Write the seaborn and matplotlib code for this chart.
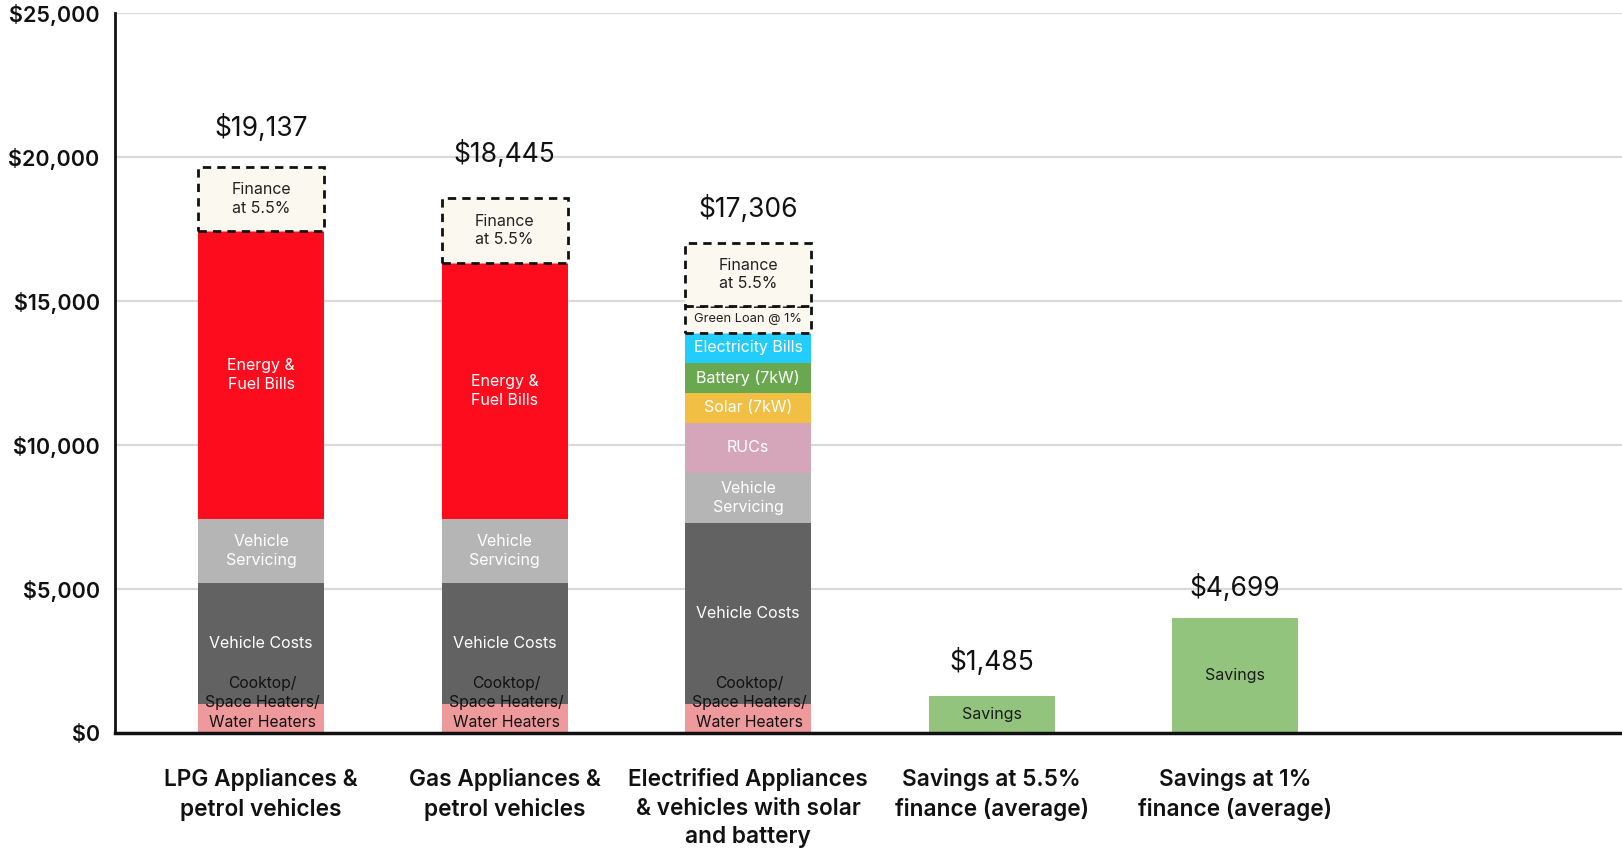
import matplotlib
matplotlib.use("Agg")
import matplotlib.pyplot as plt
import seaborn as sns
import pandas as pd

# ---------------- data ----------------
categories = [
    "LPG Appliances &\npetrol vehicles",
    "Gas Appliances &\npetrol vehicles",
    "Electrified Appliances\n& vehicles with solar\nand battery",
    "Savings at 5.5%\nfinance (average)",
    "Savings at 1%\nfinance (average)",
]
total_labels = ["$19,137", "$18,445", "$17,306", "$1,485", "$4,699"]

lpg_segments = ["Appliances", "Vehicle Costs", "Vehicle Servicing", "Energy & Fuel Bills", "Finance"]
lpg_values = [1000, 4200, 2230, 10000, 2220]

gas_segments = ["Appliances", "Vehicle Costs", "Vehicle Servicing", "Energy & Fuel Bills", "Finance"]
gas_values = [1000, 4200, 2230, 8890, 2256]

elec_segments = ["Appliances", "Vehicle Costs", "Vehicle Servicing", "RUCs", "Solar",
                 "Battery", "Electricity Bills", "Green Loan", "Finance"]
elec_values = [1000, 6290, 1740, 1740, 1040, 1040, 1040, 940, 2190]

sav55_segments = ["Savings"]
sav55_values = [1285]
sav1_segments = ["Savings"]
sav1_values = [3993]

seg_text = {
    "Appliances": "Cooktop/\nSpace Heaters/\nWater Heaters",
    "Vehicle Costs": "Vehicle Costs",
    "Vehicle Servicing": "Vehicle\nServicing",
    "Energy & Fuel Bills": "Energy &\nFuel Bills",
    "Finance": "Finance\nat 5.5%",
    "RUCs": "RUCs",
    "Solar": "Solar (7kW)",
    "Battery": "Battery (7kW)",
    "Electricity Bills": "Electricity Bills",
    "Green Loan": "Green Loan @ 1%",
    "Savings": "Savings",
}
seg_color = {
    "Appliances": "#EE9A9C",
    "Vehicle Costs": "#626262",
    "Vehicle Servicing": "#B5B5B5",
    "Energy & Fuel Bills": "#FD0C1E",
    "Finance": "#FBF8F0",
    "RUCs": "#D5A6BA",
    "Solar": "#F1BF43",
    "Battery": "#6AA84F",
    "Electricity Bills": "#22CCFB",
    "Green Loan": "#FBF8F0",
    "Savings": "#93C47D",
}
seg_txtcolor = {
    "Appliances": "#111111",
    "Finance": "#222222",
    "Green Loan": "#222222",
    "Savings": "#1a1a1a",
}
dashed = {"Finance", "Green Loan"}
# vertical gap (points) between bar top and centre of the total label
label_gap_pt = [28, 32, 24.5, 24.5, 21.5]

# ---------------- build long table ----------------
rows = []
for cat, segs, vals in zip(categories,
                           [lpg_segments, gas_segments, elec_segments, sav55_segments, sav1_segments],
                           [lpg_values, gas_values, elec_values, sav55_values, sav1_values]):
    bottom = 0
    for s, v in zip(segs, vals):
        rows.append(dict(category=cat, segment=s, value=v, bottom=bottom, top=bottom + v))
        bottom += v
df = pd.DataFrame(rows)

# ---------------- plot ----------------
sns.set_theme(style="white")
FONT = ["Inter", "DejaVu Sans"]
plt.rcParams["font.family"] = FONT

fig = plt.figure(figsize=(16.22, 8.48), dpi=100)
ax = fig.add_axes([0.0709, 0.1356, 0.9291, 0.8491])

W = 0.517
for z, r in df.iterrows():
    sub = pd.DataFrame({"category": [r["category"]], "top": [r["top"]]})
    is_dash = r["segment"] in dashed
    n_before = len(ax.patches)
    sns.barplot(data=sub, x="category", y="top", order=categories, ax=ax,
                color=seg_color[r["segment"]], saturation=1, width=W, errorbar=None,
                edgecolor="#111111" if is_dash else "none",
                linewidth=2.0 if is_dash else 0,
                linestyle=(0, (3, 2.2)) if is_dash else "-",
                zorder=3 + (5 if is_dash else 0))
    # turn the cumulative bar into its own stacked segment
    for p in ax.patches[n_before:]:
        if p.get_height() > 0:
            p.set_y(r["bottom"])
            p.set_height(r["value"])

# segment labels
for _, r in df.iterrows():
    i = categories.index(r["category"])
    s = r["segment"]
    col = seg_txtcolor.get(s, "white")
    fs = 11.5
    if s == "Green Loan":
        fs = 9.3
    if s == "Appliances":
        ax.annotate(seg_text[s], xy=(i, 0), xytext=(1, 2), textcoords="offset points",
                    ha="center", va="bottom", fontsize=11.3, color=col,
                    linespacing=1.4, zorder=100)
    else:
        ax.text(i, (r["bottom"] + r["top"]) / 2, seg_text[s], ha="center", va="center",
                fontsize=fs, color=col, linespacing=1.3, zorder=100)

# total labels
tops = df.groupby("category", sort=False)["top"].max()
for i, cat in enumerate(categories):
    ax.annotate(total_labels[i], xy=(i, tops[cat]), xytext=(0, label_gap_pt[i]),
                textcoords="offset points", ha="center", va="center",
                fontsize=19, color="#111111", zorder=100)

ax.set_xlim(-0.6, 5.589)
ax.set_ylim(0, 25000)
ax.set_yticks([0, 5000, 10000, 15000, 20000, 25000])
ax.set_yticklabels(["$0", "$5,000", "$10,000", "$15,000", "$20,000", "$25,000"])
ax.yaxis.grid(True, color="#DADADA", linewidth=1.6, zorder=0)
ax.set_axisbelow(True)
ax.set_xlabel("")
ax.set_ylabel("")
ax.tick_params(axis="both", length=0)
ax.tick_params(axis="y", pad=11, labelsize=15.5)
ax.tick_params(axis="x", pad=25, labelsize=16.3)
for lab in ax.get_yticklabels():
    lab.set_fontweight("semibold")
    lab.set_color("#111111")
for lab in ax.get_xticklabels():
    lab.set_fontweight("semibold")
    lab.set_color("#111111")
    lab.set_linespacing(1.4)

for sp in ["top", "right"]:
    ax.spines[sp].set_visible(False)
ax.spines["left"].set_color("#111111")
ax.spines["left"].set_linewidth(2)
ax.spines["bottom"].set_color("#111111")
ax.spines["bottom"].set_linewidth(2.5)
ax.spines["left"].set_zorder(200)
ax.spines["bottom"].set_zorder(200)

fig.savefig("out.png", dpi=100)
